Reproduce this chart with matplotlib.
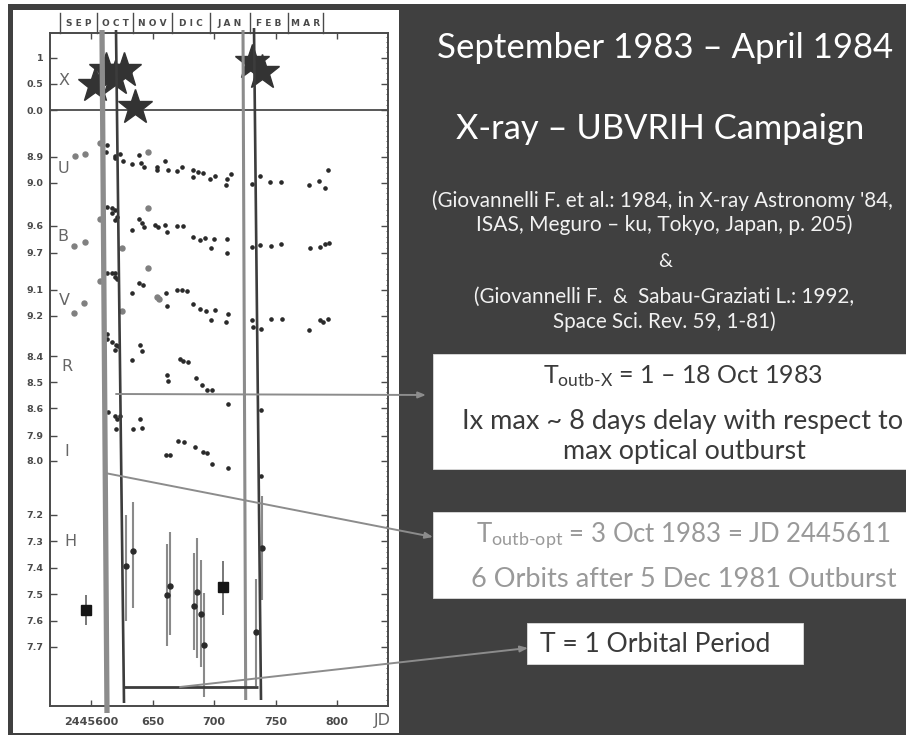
import matplotlib
matplotlib.use("Agg")
import matplotlib.pyplot as plt
from matplotlib.patches import Rectangle
from matplotlib.ticker import FixedLocator, MultipleLocator

W, H = 906, 735
plt.rcParams['font.family'] = ['Lato', 'DejaVu Sans']
plt.rcParams['mathtext.fontset'] = 'custom'
plt.rcParams['mathtext.rm'] = 'Lato'
plt.rcParams['mathtext.it'] = 'Lato:italic'
plt.rcParams['mathtext.bf'] = 'Lato:bold'
SCAN = 'DejaVu Sans'

# ---- data: x is JD - 2445600 ----
jd_ticks = [0, 50, 100, 150, 200]
jd_labels = ['2445600', '650', '700', '750', '800']
month_edges = [-25.2, 4.6, 34.4, 65.6, 96.7, 129.3, 160.4, 188.9]
months = ['SEP', 'OCT', 'NOV', 'DIC', 'JAN', 'FEB', 'MAR']

x_d = [3.2, 12.2, 19.5, 26.8, 35.8, 130.6, 138.7]
x_v = [0.475, 0.759, 0.601, 0.759, 0.063, 0.918, 0.728]

u_d = [13.3, 12.2, 19.5, 23.6, 19.5, 26.3, 33, 39, 41, 43, 53.4, 53.4, 60, 62.3, 69.6, 73.7, 83, 87.2, 91.3, 83, 96.7, 100.8, 110.3, 109.7, 113.8, 131, 137.4, 145.5, 154.2, 177.5, 185.6, 190.2, 193]
u_m = [8.854, 8.88, 8.896, 8.888, 8.905, 8.915, 8.927, 8.892, 8.924, 8.94, 8.937, 8.95, 8.917, 8.95, 8.954, 8.937, 8.95, 8.959, 8.963, 8.978, 8.986, 8.973, 8.986, 9.009, 8.965, 9.004, 8.973, 8.995, 8.995, 9.009, 8.992, 9.018, 8.951]
u_open_d = [-13, -5, 7.3, 46]
u_open_m = [8.896, 8.888, 8.845, 8.881]

b_d = [13.3, 16.8, 19.5, 16.8, 20.9, 19.5, 33, 39, 41.2, 43, 52, 54.7, 60, 61.5, 69.6, 75, 83, 88.6, 92.7, 100.3, 110.8, 97.3, 110.3, 131.1, 137.4, 146, 154.5, 178, 186.2, 190.2, 193.7]
b_m = [9.528, 9.535, 9.541, 9.553, 9.565, 9.578, 9.615, 9.575, 9.59, 9.605, 9.596, 9.602, 9.596, 9.621, 9.6, 9.6, 9.642, 9.652, 9.646, 9.647, 9.649, 9.683, 9.701, 9.679, 9.67, 9.673, 9.667, 9.683, 9.677, 9.668, 9.662]
b_open_d = [-13.8, -4.9, 7.3, 46, 25]
b_open_m = [9.674, 9.658, 9.575, 9.535, 9.683]

v_d = [13.3, 16.8, 19.5, 20.9, 19.5, 33, 39.3, 42.5, 60.7, 61.5, 69.6, 73.7, 77.8, 83.2, 88.6, 93.2, 100.8, 111, 97.3, 109.7, 130.6, 132, 138, 146.3, 155, 177.5, 186.2, 188.9, 193]
v_m = [9.036, 9.036, 9.036, 9.059, 9.049, 9.113, 9.072, 9.081, 9.113, 9.16, 9.1, 9.1, 9.103, 9.154, 9.173, 9.179, 9.178, 9.192, 9.215, 9.223, 9.215, 9.241, 9.25, 9.213, 9.213, 9.254, 9.215, 9.222, 9.212]
v_open_d = [-13.8, -5.7, 7.3, 25, 46.6, 53.4, 55.5]
v_open_m = [9.187, 9.151, 9.064, 9.182, 9.015, 9.126, 9.136]

r_d = [13.3, 13.3, 16.8, 20.3, 22.2, 19.5, 33, 39.8, 41.2, 61.5, 62.9, 72.3, 75, 79.1, 85.1, 90, 94.6, 98, 111, 138]
r_m = [8.315, 8.336, 8.345, 8.359, 8.362, 8.377, 8.415, 8.359, 8.379, 8.472, 8.495, 8.413, 8.418, 8.423, 8.485, 8.512, 8.532, 8.532, 8.586, 8.608]

i_d = [14, 19.5, 21.4, 23.6, 20.3, 34.4, 39.8, 41.2, 60.7, 64.2, 71, 75.6, 84.5, 91.3, 94.6, 98.4, 111.6, 138.2]
i_m = [7.806, 7.819, 7.832, 7.819, 7.871, 7.871, 7.832, 7.868, 7.978, 7.975, 7.921, 7.926, 7.945, 7.966, 7.969, 8.013, 8.029, 8.062]

h_d = [28.4, 33.9, 61.5, 64.2, 84, 86.4, 89.4, 91.9, 134.1, 139.3]
h_m = [7.393, 7.338, 7.503, 7.469, 7.544, 7.491, 7.574, 7.694, 7.645, 7.326]
h_lo = [7.199, 7.152, 7.31, 7.266, 7.345, 7.288, 7.37, 7.497, 7.444, 7.129]
h_hi = [7.602, 7.554, 7.697, 7.656, 7.713, 7.742, 7.776, 7.89, 7.846, 7.522]
hs_d = [-4.4, 107.6]
hs_m = [7.559, 7.472]
hs_lo = [7.503, 7.374]
hs_hi = [7.615, 7.579]

# ---- layout, in reference pixels ----
DARK = '#404040'
INK = '#4a4a4a'
fig = plt.figure(figsize=(W / 100, H / 100), dpi=100, facecolor='white')
L, R, T, B = 50, 388, 33, 706
xlim = ((L - 91) / 1.23, (R - 91) / 1.23)


def px_axes(z):
    a = fig.add_axes([0, 0, 1, 1], zorder=z)
    a.set_xlim(0, W)
    a.set_ylim(H, 0)
    a.axis('off')
    a.patch.set_alpha(0)
    return a


bg = px_axes(0)
bg.add_patch(Rectangle((8, 4), W - 8, H - 4, fc=DARK, ec='none'))
bg.add_patch(Rectangle((13, 10), 386, 723, fc='white', ec='none'))

frame = fig.add_axes([L / W, 1 - B / H, (R - L) / W, (B - T) / H], zorder=1)
frame.set_xlim(*xlim)
frame.set_ylim(0, 1)
frame.set_yticks([])
frame.set_xticks(jd_ticks, jd_labels, fontsize=8, fontweight='bold', family=SCAN, color=INK)
frame.tick_params(axis='x', top=True, direction='in', length=4, width=1, color=INK, pad=8)
for s in frame.spines.values():
    s.set_color(INK)
    s.set_linewidth(1.4)


def panel(m0, p0, m1, p1, top, bot, ticks, labels, minor):
    a = fig.add_axes([L / W, 1 - bot / H, (R - L) / W, (bot - top) / H], zorder=2)
    f = lambda p: m0 + (p - p0) * (m1 - m0) / (p1 - p0)
    a.set_xlim(*xlim)
    a.set_ylim(f(bot), f(top))
    a.patch.set_alpha(0)
    for s in a.spines.values():
        s.set_visible(False)
    a.set_xticks([])
    a.yaxis.set_major_locator(FixedLocator(ticks))
    a.set_yticklabels(labels, fontsize=6.8, fontweight='bold', family=SCAN, color=INK)
    a.yaxis.set_minor_locator(MultipleLocator(minor))
    a.tick_params(axis='y', which='major', left=True, right=True, direction='in', length=5, width=1, color=INK, pad=5)
    a.tick_params(axis='y', which='minor', left=False, right=True, direction='in', length=1.5, width=0.6, color=INK)
    return a


dot = dict(ls='none', marker='o', ms=2.3, color='#2a2a2a', clip_on=False)
ring = dict(ls='none', marker='o', ms=3.6, color='#808080', clip_on=False)
ax_x = panel(1, 57.5, 0, 110, 33, 130, [1, 0.5, 0.0], ['1', '0.5', '0.0'], 0.1)
ax_x.axhline(0, color=INK, lw=1.3)
ax_x.plot(x_d, x_v, ls='none', marker='*', ms=26, mfc='#333333', mec='#333333', clip_on=False, zorder=5)

for vals in [
    (8.9, 157, 9.0, 183, 130, 205, [8.9, 9.0], ['8.9', '9.0'], u_d, u_m, u_open_d, u_open_m),
    (9.6, 226, 9.7, 253, 205, 270, [9.6, 9.7], ['9.6', '9.7'], b_d, b_m, b_open_d, b_open_m),
    (9.1, 290, 9.2, 316, 270, 335, [9.1, 9.2], ['9.1', '9.2'], v_d, v_m, v_open_d, v_open_m),
    (8.4, 356, 8.5, 382, 335, 420, [8.4, 8.5, 8.6], ['8.4', '8.5', '8.6'], r_d, r_m, [], []),
    (7.9, 436, 8.0, 461, 420, 490, [7.9, 8.0], ['7.9', '8.0'], i_d, i_m, [], []),
]:
    a = panel(*vals[:8], 0.02)
    a.plot(vals[8], vals[9], **dot)
    a.plot(vals[10], vals[11], **ring)

ax_h = panel(7.2, 515, 7.7, 647, 490, B, [7.2, 7.3, 7.4, 7.5, 7.6, 7.7],
             ['7.2', '7.3', '7.4', '7.5', '7.6', '7.7'], 0.02)
ax_h.vlines(h_d, h_lo, h_hi, color='#8a8a8a', lw=1.5)
ax_h.plot(h_d, h_m, **{**dot, 'ms': 3.6})
ax_h.vlines(hs_d, hs_lo, hs_hi, color='#777777', lw=1.4)
ax_h.plot(hs_d, hs_m, ls='none', marker='s', ms=6.5, color='#151515')

# annotation layer
top = px_axes(3)
for name, x, y in [('X', 64, 80), ('U', 63, 168), ('B', 63, 236), ('V', 64, 300),
                   ('R', 67, 366), ('I', 67, 451), ('H', 70, 542), ('JD', 382, 720)]:
    top.text(x, y, name, fontsize=11.5, family=SCAN, color='#666666', ha='center', va='center')
for e in month_edges:
    px = 91 + 1.23 * e
    top.plot([px, px], [13, 33], color=INK, lw=1)
for name, a, b in zip(months, month_edges[:-1], month_edges[1:]):
    top.text(91 + 1.23 * (a + b) / 2, 23, ' '.join(name), fontsize=6.5, fontweight='bold', family=SCAN,
             color=INK, ha='center', va='center')

top.plot([102, 107], [30, 713], color='#8c8c8c', lw=3.8, solid_capstyle='butt')
top.plot([116, 124], [30, 703], color='#3c3c3c', lw=1.9, solid_capstyle='butt')
top.plot([243, 245.7], [30, 700], color='#8c8c8c', lw=2.2, solid_capstyle='butt')
top.plot([254, 261], [28, 700], color='#3c3c3c', lw=1.9, solid_capstyle='butt')
top.plot([124, 258], [687, 687], color='#3c3c3c', lw=2, solid_capstyle='butt')

arrow = dict(arrowstyle='-|>,head_length=0.45,head_width=0.18', color='#8c8c8c', lw=1.4, shrinkA=0, shrinkB=0)
top.annotate('', xy=(426, 395), xytext=(116, 394), arrowprops=arrow)
top.annotate('', xy=(433, 537), xytext=(105, 473), arrowprops=arrow)
top.annotate('', xy=(528, 648), xytext=(180, 687), arrowprops=arrow)

# text panels
txt = px_axes(4)
for x, y, w, h in [(433, 354, 473, 115), (433, 512, 473, 86), (527, 623, 276, 41)]:
    txt.add_patch(Rectangle((x, y), w, h, fc='white', ec='#dddddd', lw=0.6))

renderer = fig.canvas.get_renderer()


def fit(s, x0, x1, y, color):
    t = txt.text((x0 + x1) / 2, y, s, fontsize=12, color=color, ha='center', va='baseline')
    t.set_fontsize(12 * (x1 - x0) / t.get_window_extent(renderer).width)
    return t


fit('September 1983 – April 1984', 438, 893, 58, 'white')
fit('X-ray – UBVRIH Campaign', 457, 864, 139, 'white')
fit("(Giovannelli F. et al.: 1984, in X-ray Astronomy '84,", 432, 892, 207, '#f2f2f2')
fit('ISAS, Meguro – ku, Tokyo, Japan, p. 205)', 477, 852, 231, '#f2f2f2')
fit('&', 658, 672, 267, '#f2f2f2')
fit('(Giovannelli F.  &  Sabau-Graziati L.: 1992,', 474, 854, 303, '#f2f2f2')
fit('Space Sci. Rev. 59, 1-81)', 553, 775, 328, '#f2f2f2')
fit(r'T$_{\mathrm{outb\text{-}X}}$ = 1 – 18 Oct 1983', 543, 823, 383, '#3a3a3a')
fit('Ix max ~ 8 days delay with respect to', 463, 903, 429, '#3a3a3a')
fit('max optical outburst', 563, 805, 459, '#3a3a3a')
fit(r'T$_{\mathrm{outb\text{-}opt}}$ = 3 Oct 1983 = JD 2445611', 476, 890, 542, '#999999')
fit('6 Orbits after 5 Dec 1981 Outburst', 472, 895, 587, '#999999')
fit('T = 1 Orbital Period', 540, 770, 652, '#3a3a3a')

fig.savefig('out.png', dpi=100)
